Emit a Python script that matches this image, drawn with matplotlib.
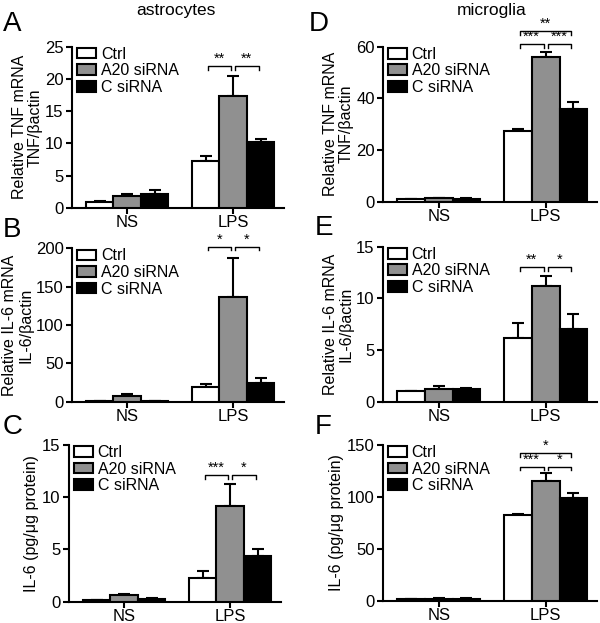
import numpy as np
import matplotlib
matplotlib.use('Agg')
import matplotlib.pyplot as plt

plt.rcParams['font.family'] = ['Liberation Sans', 'DejaVu Sans']

groups = ['NS', 'LPS']
labels = ['Ctrl', 'A20 siRNA', 'C siRNA']
colors = ['white', '#909090', 'black']

# means [series][group], errors (upper only)
A_mean = [[1.0, 7.3], [1.9, 17.4], [2.2, 10.3]]
A_err = [[0.1, 0.8], [0.25, 3.1], [0.55, 0.45]]
B_mean = [[1.0, 19.5], [7.5, 136], [1.0, 24.5]]
B_err = [[0.3, 3.5], [3.0, 52], [0.3, 6]]
C_mean = [[0.15, 2.25], [0.6, 9.15], [0.25, 4.4]]
C_err = [[0.05, 0.7], [0.12, 2.1], [0.08, 0.65]]
D_mean = [[1.0, 27.5], [1.3, 56.2], [1.1, 36.0]]
D_err = [[0.2, 0.5], [0.3, 1.9], [0.2, 2.5]]
E_mean = [[1.0, 6.15], [1.2, 11.2], [1.2, 7.0]]
E_err = [[0.05, 1.45], [0.3, 0.95], [0.1, 1.5]]
F_mean = [[1.5, 83], [2.0, 115.5], [2.0, 98.5]]
F_err = [[0.3, 1.0], [0.4, 8], [0.3, 5.5]]

# significance brackets inside LPS group: (bar i, bar j, y, text)
A_sig = [(0, 1, 22, '**'), (1, 2, 22, '**')]
B_sig = [(0, 1, 202, '*'), (1, 2, 202, '*')]
C_sig = [(0, 1, 12.1, '***'), (1, 2, 12.1, '*')]
D_sig = [(0, 1, 61, '***'), (1, 2, 61, '***'), (0, 2, 66, '**')]
E_sig = [(0, 1, 13.0, '**'), (1, 2, 13.0, '*')]
F_sig = [(0, 1, 129, '***'), (1, 2, 129, '*'), (0, 2, 142, '*')]

W, H = 600, 623
fig = plt.figure(figsize=(6, 6.23), dpi=100)

w = 0.26
xlo, xhi = -0.52, 1.48


def panel(rect_px, mean, err, sig, ymax, ystep, ylabel, letter, letter_xy):
    left, top, bottom, unit = rect_px
    ax = fig.add_axes([left / W, 1 - bottom / H, unit * (xhi - xlo) / W, (bottom - top) / H])
    x = np.arange(len(groups))
    for k in range(3):
        xs = x + (k - 1) * w
        ax.bar(xs, mean[k], width=w, color=colors[k], edgecolor='black',
               linewidth=1.5, label=labels[k], zorder=3)
        ax.errorbar(xs, mean[k], yerr=[np.zeros(2), err[k]], fmt='none',
                    ecolor='black', elinewidth=1.5, capsize=4.5, capthick=1.5, zorder=2)
    drop = ymax * 0.022
    for i, j, y, t in sig:
        x1 = 1 + (i - 1) * w + 0.02
        x2 = 1 + (j - 1) * w - 0.02
        ax.plot([x1, x1, x2, x2], [y - drop, y, y, y - drop], color='black',
                lw=1.0, clip_on=False, zorder=4)
        ax.text((x1 + x2) / 2, y + ymax * 0.003, t, ha='center', va='bottom',
                fontsize=10.5, clip_on=False)
    ax.set_xlim(xlo, xhi)
    ax.set_ylim(0, ymax)
    ax.set_yticks(np.arange(0, ymax + ystep / 2, ystep))
    ax.set_xticks(x)
    ax.set_xticklabels(groups)
    ax.spines['top'].set_visible(False)
    ax.spines['right'].set_visible(False)
    for s in ['left', 'bottom']:
        ax.spines[s].set_linewidth(1.5)
    ax.tick_params(axis='both', width=1.5, length=4, labelsize=12, direction='out')
    ax.tick_params(axis='x', pad=1)
    ax.tick_params(axis='y', pad=2)
    ax.set_ylabel(ylabel, fontsize=11.5, labelpad=2, linespacing=1.05)
    leg = ax.legend(loc='upper left', bbox_to_anchor=(0.0, 1.03), frameon=False,
                    fontsize=11.5, handlelength=1.2, handleheight=0.65,
                    borderpad=0.1, labelspacing=0.1, handletextpad=0.3,
                    borderaxespad=0.2)
    for h in leg.legend_handles:
        h.set_linewidth(1.5)
    fig.text(letter_xy[0] / W, 1 - letter_xy[1] / H, letter, fontsize=20,
             ha='left', va='center')
    return ax


panel((72, 46.7, 208, 106), A_mean, A_err, A_sig, 25, 5,
      'Relative TNF mRNA\nTNF/\u03b2actin', 'A', (3, 24))
panel((72, 248.3, 401.7, 106), B_mean, B_err, B_sig, 200, 50,
      'Relative IL-6 mRNA\nIL-6/\u03b2actin', 'B', (3, 230))
panel((69, 445, 601.7, 106), C_mean, C_err, C_sig, 15, 5,
      'IL-6 (pg/\u03bcg protein)', 'C', (3, 427))
panel((383, 46.7, 201.7, 107), D_mean, D_err, D_sig, 60, 20,
      'Relative TNF mRNA\nTNF/\u03b2actin', 'D', (309, 24))
panel((383, 246.7, 401.7, 107), E_mean, E_err, E_sig, 15, 5,
      'Relative IL-6 mRNA\nIL-6/\u03b2actin', 'E', (315, 228))
panel((383, 445, 600.7, 107), F_mean, F_err, F_sig, 150, 50,
      'IL-6 (pg/\u03bcg protein)', 'F', (315, 427))

fig.text(176 / W, 1 - 11 / H, 'astrocytes', fontsize=12.5, ha='center', va='center')
fig.text(492 / W, 1 - 11 / H, 'microglia', fontsize=12.5, ha='center', va='center')

fig.savefig('out.png', dpi=100, facecolor='white')
